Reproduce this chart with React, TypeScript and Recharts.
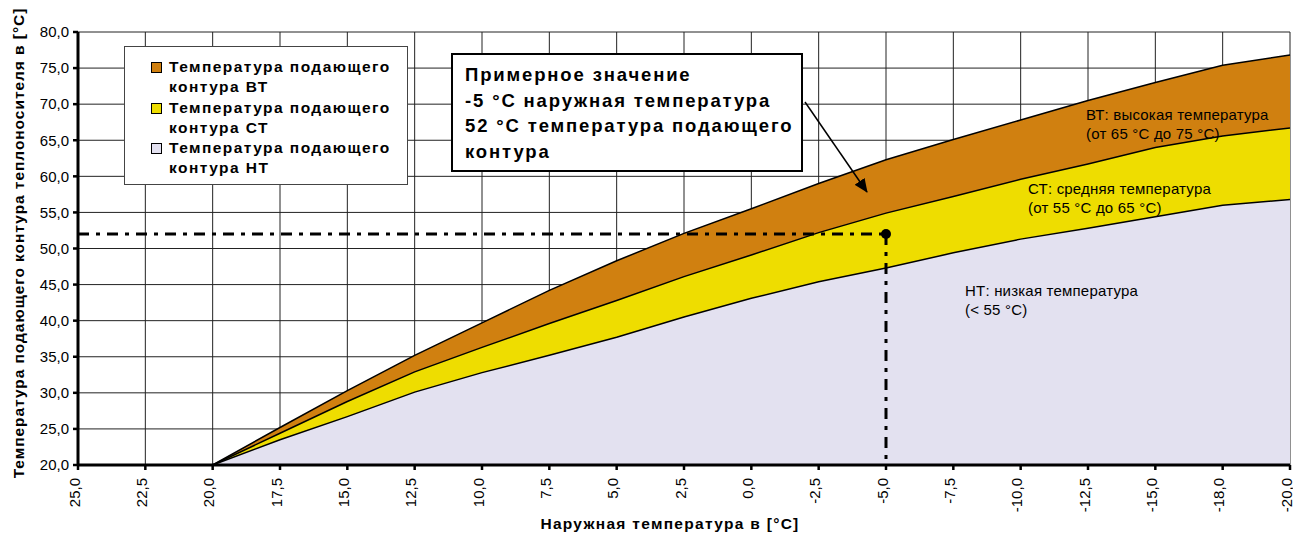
import { AreaChart, Area, XAxis, YAxis, CartesianGrid, ReferenceLine, ReferenceDot } from 'recharts';

// outside temperature categories (x axis)
const categories = ['25,0', '22,5', '20,0', '17,5', '15,0', '12,5', '10,0', '7,5', '5,0', '2,5', '0,0', '-2,5', '-5,0', '-7,5', '-10,0', '-12,5', '-15,0', '-18,0', '-20,0'];

// supply temperature per circuit type
const btValues = [null, null, 20, 25.2, 30.3, 35.2, 39.7, 44.2, 48.3, 52.1, 55.5, 59.0, 62.3, 65.1, 67.8, 70.5, 73.0, 75.4, 76.8];
const ctValues = [null, null, 20, 24.4, 28.8, 32.9, 36.3, 39.6, 42.8, 46.1, 49.1, 52.2, 54.9, 57.2, 59.6, 61.7, 64.0, 65.6, 66.7];
const ntValues = [null, null, 20, 23.5, 26.7, 30.1, 32.8, 35.2, 37.7, 40.5, 43.1, 45.4, 47.3, 49.4, 51.3, 52.8, 54.4, 56.0, 56.8];

const yTicks = [20, 25, 30, 35, 40, 45, 50, 55, 60, 65, 70, 75, 80];

// example point
const exampleOutside = '-5,0';
const exampleSupply = 52;

const BT_COLOR = '#D08010';
const CT_COLOR = '#EEDD00';
const NT_COLOR = '#E3E1F0';

const data = categories.map((label, i) => ({
  label,
  bt: btValues[i],
  ct: ctValues[i],
  nt: ntValues[i],
}));

const legendItems = [
  { color: BT_COLOR, text: ['Температура подающего', 'контура ВТ'] },
  { color: CT_COLOR, text: ['Температура подающего', 'контура СТ'] },
  { color: NT_COLOR, text: ['Температура подающего', 'контура НТ'] },
];

const XTick = (props: any) => {
  const { x, y, payload } = props;
  const tx = x - 4;
  return (
    <text
      x={tx}
      y={y}
      transform={`rotate(-90 ${tx} ${y})`}
      textAnchor="end"
      dominantBaseline="central"
      fontSize={15}
      fill="#000"
    >
      {payload.value}
    </text>
  );
};

const fmt = (v: number) => v.toFixed(1).replace('.', ',');

export default function App() {
  return (
    <div style={{ position: 'absolute', left: 0, top: 0, width: 1293, height: 534, fontFamily: '"Liberation Sans", Arial, sans-serif', background: '#fff' }}>
      <AreaChart width={1293} height={534} data={data} margin={{ top: 32, right: 3, bottom: 0, left: 0 }}>
        <CartesianGrid stroke="#222" strokeWidth={1} />
        <Area type="linear" dataKey="bt" fill={BT_COLOR} fillOpacity={1} stroke="#000" strokeWidth={1.5} isAnimationActive={false} dot={false} activeDot={false} />
        <Area type="linear" dataKey="ct" fill={CT_COLOR} fillOpacity={1} stroke="#000" strokeWidth={1.5} isAnimationActive={false} dot={false} activeDot={false} />
        <Area type="linear" dataKey="nt" fill={NT_COLOR} fillOpacity={1} stroke="#000" strokeWidth={1.5} isAnimationActive={false} dot={false} activeDot={false} />
        <XAxis
          dataKey="label"
          scale="point"
          interval={0}
          height={69}
          tick={<XTick />}
          tickSize={5}
          tickMargin={8}
          axisLine={{ stroke: '#000', strokeWidth: 3 }}
          tickLine={{ stroke: '#000', strokeWidth: 2.5 }}
        />
        <YAxis
          width={78}
          domain={[20, 80]}
          ticks={yTicks}
          interval={0}
          tickFormatter={fmt}
          tick={{ fontSize: 15, fill: '#000' }}
          tickSize={5}
          tickMargin={4}
          axisLine={{ stroke: '#000', strokeWidth: 3 }}
          tickLine={{ stroke: '#000', strokeWidth: 2.5 }}
        />
        <ReferenceLine
          segment={[{ x: categories[0], y: exampleSupply }, { x: exampleOutside, y: exampleSupply }]}
          stroke="#000"
          strokeWidth={3}
          strokeDasharray="11 7 4 7"
        />
        <ReferenceLine
          segment={[{ x: exampleOutside, y: exampleSupply }, { x: exampleOutside, y: 20 }]}
          stroke="#000"
          strokeWidth={3}
          strokeDasharray="11 7 4 7"
        />
        <ReferenceDot x={exampleOutside} y={exampleSupply} r={5} fill="#000" stroke="none" />
      </AreaChart>

      {/* axis titles, region labels, arrow */}
      <svg width={1293} height={534} style={{ position: 'absolute', left: 0, top: 0, pointerEvents: 'none' }}>
        <defs>
          <marker id="arrowHead" markerWidth="14" markerHeight="12" refX="13" refY="6" orient="auto" markerUnits="userSpaceOnUse">
            <path d="M0,0 L14,6 L0,12 z" fill="#000" />
          </marker>
        </defs>
        <text x={18} y={243} transform="rotate(-90 18 243)" textAnchor="middle" dominantBaseline="central" fontSize={15.5} fontWeight="bold" letterSpacing={0.95}>
          Температура подающего контура теплоносителя в [°C]
        </text>
        <text x={670} y={523} textAnchor="middle" dominantBaseline="central" fontSize={15.5} fontWeight="bold" letterSpacing={1.3}>
          Наружная температура в [°C]
        </text>
        <g fontSize={15} fill="#000" letterSpacing={0.2}>
          <text x={1086} y={114} dominantBaseline="central">ВТ: высокая температура</text>
          <text x={1086} y={133} dominantBaseline="central">(от 65 °C до 75 °C)</text>
          <text x={1028} y={188} dominantBaseline="central">СТ: средняя температура</text>
          <text x={1028} y={207} dominantBaseline="central">(от 55 °C до 65 °C)</text>
          <text x={965} y={290} dominantBaseline="central">НТ: низкая температура</text>
          <text x={965} y={309} dominantBaseline="central">(&lt; 55 °C)</text>
        </g>
        <line x1={805} y1={102} x2={867} y2={192} stroke="#000" strokeWidth={1.5} markerEnd="url(#arrowHead)" />
      </svg>

      {/* legend */}
      <div style={{ position: 'absolute', left: 124, top: 46, width: 284, height: 139, background: '#fff', border: '1px solid #444', boxSizing: 'border-box' }}>
        {legendItems.map((item, i) => (
          <div key={i} style={{ position: 'absolute', left: 26, top: 10 + i * 40.5, display: 'flex', alignItems: 'flex-start' }}>
            <div style={{ width: 11, height: 11, marginTop: 5, background: item.color, border: '1px solid #000', flexShrink: 0, boxSizing: 'border-box' }} />
            <div style={{ marginLeft: 7, fontSize: 15.5, fontWeight: 'bold', lineHeight: '20px', letterSpacing: 1.45, whiteSpace: 'nowrap' }}>
              <div>{item.text[0]}</div>
              <div>{item.text[1]}</div>
            </div>
          </div>
        ))}
      </div>

      {/* example annotation */}
      <div style={{ position: 'absolute', left: 451, top: 53, width: 352, height: 119, background: '#fff', border: '2.5px solid #000', boxSizing: 'border-box', padding: '7px 0 0 12px', fontSize: 18.5, fontWeight: 'bold', lineHeight: '25.6px', letterSpacing: 1.85, whiteSpace: 'nowrap' }}>
        <div>Примерное значение</div>
        <div>-5 °C наружная температура</div>
        <div>52 °C температура подающего</div>
        <div>контура</div>
      </div>
    </div>
  );
}
